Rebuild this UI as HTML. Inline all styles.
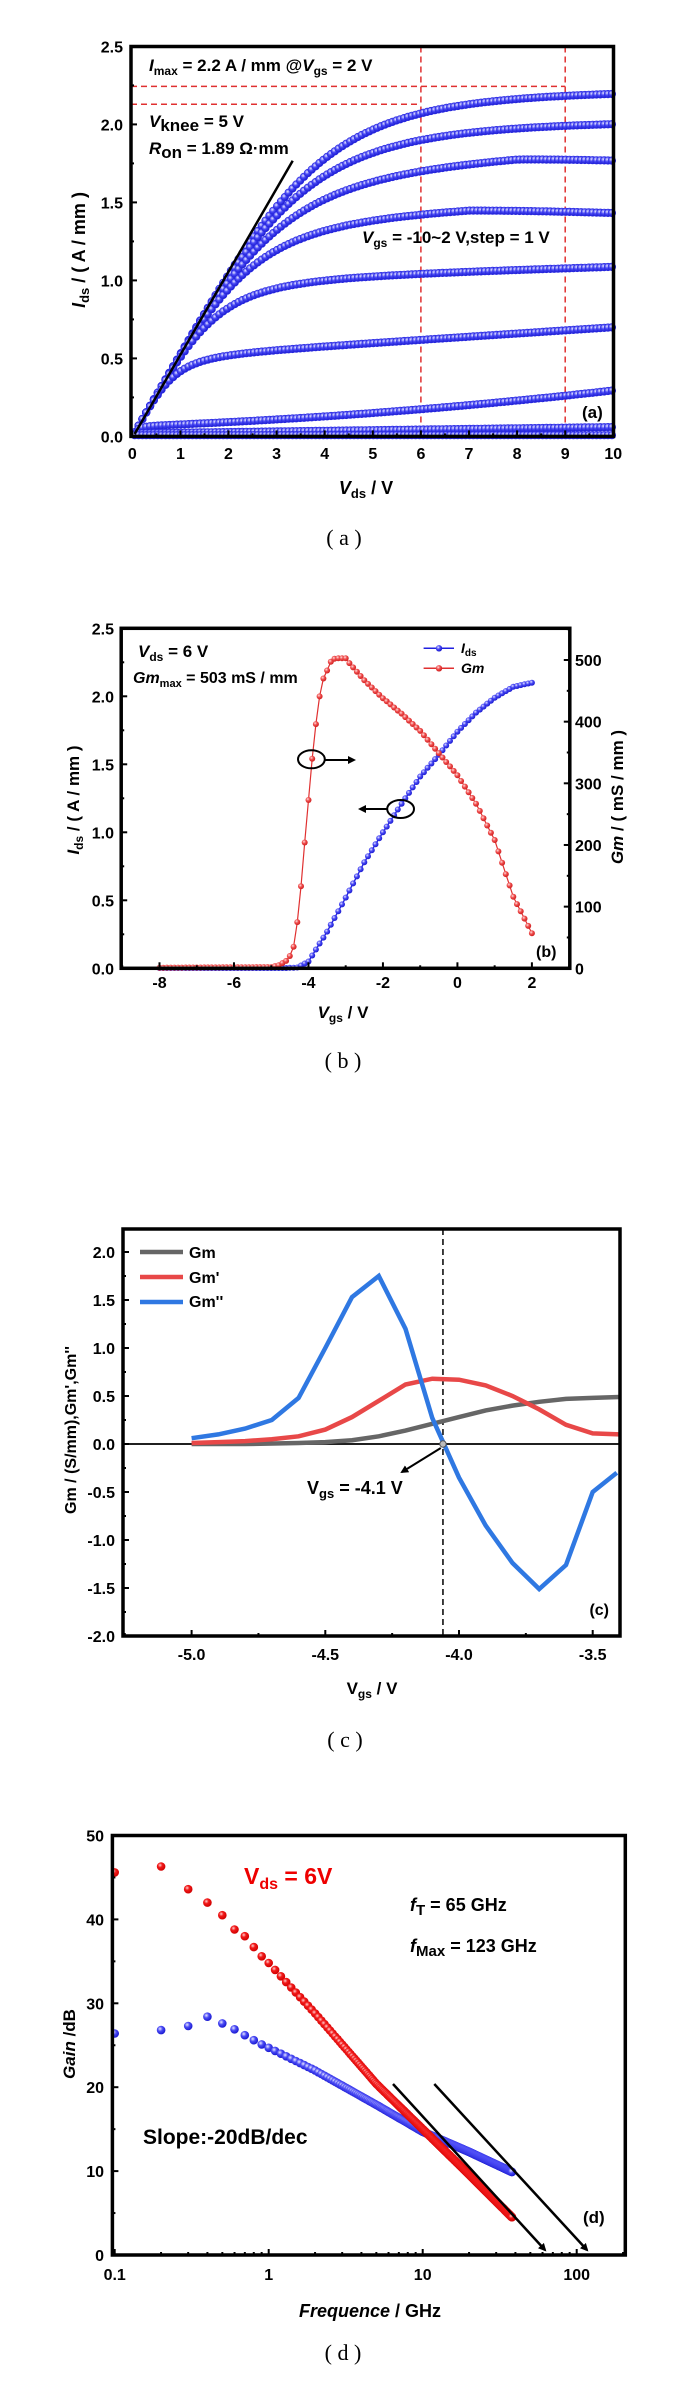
<!DOCTYPE html>
<html><head><meta charset="utf-8">
<style>
html,body{margin:0;padding:0;background:#fff;}
svg{display:block;}
text{font-family:"Liberation Sans",Arial,sans-serif;font-weight:bold;fill:#000;}
.cap{font-family:"Liberation Serif","Noto Serif CJK SC",serif;font-weight:normal;font-size:22px;}
.tk{font-size:16px;}
</style></head>
<body>
<svg id="s" xmlns="http://www.w3.org/2000/svg" width="688" height="2398" viewBox="0 0 688 2398">
<defs>
<radialGradient id="gb" cx="0.38" cy="0.35" r="0.65"><stop offset="0" stop-color="#e8e8ff"/><stop offset="0.45" stop-color="#4a4af5"/><stop offset="1" stop-color="#1a1ad0"/></radialGradient>
<radialGradient id="gr" cx="0.38" cy="0.35" r="0.65"><stop offset="0" stop-color="#ffe0e0"/><stop offset="0.45" stop-color="#f05050"/><stop offset="1" stop-color="#d02020"/></radialGradient>
<radialGradient id="gR" cx="0.38" cy="0.35" r="0.65"><stop offset="0" stop-color="#ffd0d0"/><stop offset="0.4" stop-color="#f21a1a"/><stop offset="1" stop-color="#d00000"/></radialGradient>
<marker id="ah" markerWidth="8" markerHeight="8" refX="6" refY="4" orient="auto" markerUnits="userSpaceOnUse"><path d="M0,0 L8,4 L0,8 z" fill="#000"/></marker>
</defs>
<rect width="688" height="2398" fill="#fff"/>
<g id="pa"></g><g id="pb"></g><g id="pc"></g><g id="pd"></g>

<!-- Panel a texts -->
<text x="149" y="71" font-size="17"><tspan font-style="italic">I</tspan><tspan font-size="12" dy="4">max</tspan><tspan dy="-4"> = 2.2 A / mm @</tspan><tspan font-style="italic">V</tspan><tspan font-size="12" dy="4">gs</tspan><tspan dy="-4"> = 2 V</tspan></text>
<text x="149" y="127" font-size="17"><tspan font-style="italic">V</tspan><tspan dy="4">knee</tspan><tspan dy="-4"> = 5 V</tspan></text>
<text x="149" y="154" font-size="17"><tspan font-style="italic">R</tspan><tspan dy="4">on</tspan><tspan dy="-4"> = 1.89 Ω·mm</tspan></text>
<text x="362" y="243" font-size="17"><tspan font-style="italic">V</tspan><tspan font-size="12" dy="4">gs</tspan><tspan dy="-4"> = -10~2 V,step = 1 V</tspan></text>
<text x="582" y="418" font-size="17">(a)</text>
<text x="366" y="494" font-size="18" text-anchor="middle"><tspan font-style="italic">V</tspan><tspan font-size="13" dy="4">ds</tspan><tspan dy="-4"> / V</tspan></text>
<text transform="translate(85,250) rotate(-90)" font-size="18" text-anchor="middle"><tspan font-style="italic">I</tspan><tspan font-size="13" dy="4">ds</tspan><tspan dy="-4"> / ( A / mm )</tspan></text>
<text class="cap" x="344" y="545" text-anchor="middle">( a )</text>

<!-- Panel b texts -->
<text x="138" y="657" font-size="17"><tspan font-style="italic">V</tspan><tspan font-size="12" dy="4">ds</tspan><tspan dy="-4"> = 6 V</tspan></text>
<text x="133" y="683" font-size="16"><tspan font-style="italic">Gm</tspan><tspan font-size="11" dy="4">max</tspan><tspan dy="-4"> = 503 mS / mm</tspan></text>
<text x="461" y="653" font-size="14" font-style="italic">I<tspan font-size="10" dy="3" font-style="normal">ds</tspan></text>
<text x="461" y="673" font-size="14" font-style="italic">Gm</text>
<text x="536" y="957" font-size="16">(b)</text>
<text x="343" y="1018" font-size="17" text-anchor="middle"><tspan font-style="italic">V</tspan><tspan font-size="12" dy="4">gs</tspan><tspan dy="-4"> / V</tspan></text>
<text transform="translate(79,800) rotate(-90)" font-size="17" text-anchor="middle"><tspan font-style="italic">I</tspan><tspan font-size="12" dy="4">ds</tspan><tspan dy="-4"> / ( A / mm )</tspan></text>
<text transform="translate(623,797) rotate(-90)" font-size="17" text-anchor="middle"><tspan font-style="italic">Gm</tspan><tspan> / ( mS / mm )</tspan></text>
<text class="cap" x="343" y="1068" text-anchor="middle">( b )</text>

<!-- Panel c texts -->
<text x="189" y="1258" font-size="16">Gm</text>
<text x="189" y="1283" font-size="16">Gm'</text>
<text x="189" y="1307" font-size="16">Gm''</text>
<text x="307" y="1494" font-size="18">V<tspan font-size="13" dy="4">gs</tspan><tspan dy="-4"> = -4.1 V</tspan></text>
<text x="609" y="1615" font-size="16" text-anchor="end">(c)</text>
<text x="372" y="1694" font-size="17" text-anchor="middle">V<tspan font-size="12" dy="4">gs</tspan><tspan dy="-4"> / V</tspan></text>
<text transform="translate(76,1430) rotate(-90)" font-size="16" text-anchor="middle">Gm / (S/mm),Gm',Gm''</text>
<text class="cap" x="345" y="1747" text-anchor="middle">( c )</text>

<!-- Panel d texts -->
<text x="244" y="1884" font-size="23" style="fill:#ee0000">V<tspan font-size="16" dy="5">ds</tspan><tspan dy="-5"> = 6V</tspan></text>
<text x="410" y="1911" font-size="18"><tspan font-style="italic">f</tspan><tspan font-size="15" dy="4">T</tspan><tspan dy="-4"> = 65 GHz</tspan></text>
<text x="410" y="1952" font-size="18"><tspan font-style="italic">f</tspan><tspan font-size="15" dy="4">Max</tspan><tspan dy="-4"> = 123 GHz</tspan></text>
<text x="143" y="2144" font-size="21">Slope:-20dB/dec</text>
<text x="583" y="2223" font-size="17">(d)</text>
<text x="370" y="2317" font-size="18" text-anchor="middle"><tspan font-style="italic">Frequence</tspan> / GHz</text>
<text transform="translate(75,2044) rotate(-90)" font-size="17" text-anchor="middle"><tspan font-style="italic">Gain</tspan> /dB</text>
<text class="cap" x="343" y="2360" text-anchor="middle">( d )</text>
</svg>
<script>
var NS='http://www.w3.org/2000/svg';
function E(p,tag,a,t){var e=document.createElementNS(NS,tag);for(var k in a)e.setAttribute(k,a[k]);if(t!==undefined)e.textContent=t;p.appendChild(e);return e;}
function interp(k,x){if(x<=k[0][0])return k[0][1];for(var i=1;i<k.length;i++){if(x<=k[i][0]){var a=k[i-1],b=k[i];return a[1]+(b[1]-a[1])*(x-a[0])/(b[0]-a[0]);}}return k[k.length-1][1];}
function frame(g,l,t,r,b){E(g,'rect',{x:l,y:t,width:r-l,height:b-t,fill:'none',stroke:'#000','stroke-width':3.5});}
function ln(g,x1,y1,x2,y2,c,w,extra){var a={x1:x1,y1:y1,x2:x2,y2:y2,stroke:c||'#000','stroke-width':w||1.5};for(var k in extra)a[k]=extra[k];return E(g,'line',a);}

/* ---------- Panel A ---------- */
(function(){
var g=document.getElementById('pa');
var L=131,R=613.5,T=46.5,B=436.4;
var X=function(v){return 132.3+48.1*v;}, Y=function(i){return B-156*i;};
ln(g,X(6),T,X(6),B,'#e03030',1.5,{'stroke-dasharray':'6,4'});
ln(g,X(9),T,X(9),B,'#e03030',1.5,{'stroke-dasharray':'6,4'});
ln(g,L,86.4,X(9),86.4,'#e03030',1.5,{'stroke-dasharray':'6,4'});
ln(g,L,104.3,X(6),104.3,'#e03030',1.5,{'stroke-dasharray':'6,4'});
var curves=[
 [function(v){return 2.225;},3.5],
 [function(v){return 2.03;},3.2],
 [function(v){return 1.72+0.0125*Math.min(v,8)-0.015*Math.max(0,v-8);},3],
 [function(v){return 1.40+0.011*Math.min(v,7)-0.012*Math.max(0,v-7);},3],
 [function(v){return 1.0+0.009*v;},3],
 [function(v){return 0.5+0.02*v;},3],
 [function(v){return 0.065+0.011*v+0.0012*v*v;},2],
 [function(v){return 0.02+0.004*v;},2],
 [function(v){return 0.008;},2]];
var gg=0.53;
curves.forEach(function(c){
 for(var v=0.05;v<=10.001;v+=0.08){
  var s=c[0](v),x=gg*v/s,n=c[1];
  var I=s*x/Math.pow(1+Math.pow(x,n),1/n);
  E(g,'circle',{cx:X(v).toFixed(1),cy:Y(I).toFixed(1),r:3.8,fill:'url(#gb)',stroke:'#2a2ae0','stroke-width':0.6});
 }
});
ln(g,134.6,434,292.7,160.7,'#000',2.5);
frame(g,L,T,R,B);
for(var v=0;v<=10;v+=0.5){var x=X(v);ln(g,x,B,x,B-(v%1==0?6:3),'#000',2);
 if(v%1==0)E(g,'text',{x:x,y:459,'text-anchor':'middle','class':'tk'},String(v));}
for(var i=0;i<=2.5001;i+=0.25){var y=Y(i);ln(g,L,y,L+(Math.abs(i*2-Math.round(i*2))<1e-6?6:3),y,'#000',2);
 if(Math.abs(i*2-Math.round(i*2))<1e-6)E(g,'text',{x:123,y:y+6,'text-anchor':'end','class':'tk'},i.toFixed(1));}
})();

/* ---------- Panel B ---------- */
(function(){
var g=document.getElementById('pb');
var L=121.2,R=569.8,T=628.3,B=968.3;
var X=function(v){return 159.5+37.24*(v+8);}, Y=function(i){return B-136*i;}, Y2=function(m){return B-0.6166*m;};
var ik=[[-8,0.002],[-4.6,0.002],[-4.3,0.006],[-4.0,0.05],[-3.5,0.27],[-3,0.52],[-2.5,0.78],[-2,1.0],[-1.5,1.21],[-1,1.41],[-0.5,1.57],[0,1.74],[0.5,1.88],[1,1.99],[1.5,2.07],[2,2.1]];
var gk=[[-8,1],[-5,2],[-4.8,5],[-4.6,12],[-4.5,20],[-4.4,35],[-4.3,75],[-4.2,133],[-4.1,204],[-4.0,273],[-3.9,340],[-3.8,396],[-3.7,441],[-3.6,470],[-3.5,483],[-3.4,497],[-3.3,502],[-3.2,503],[-3.0,503],[-2.9,495],[-2.5,467],[-2,438],[-1.5,413],[-1,385],[-0.5,349],[0,313],[0.5,267],[1,208],[1.5,116],[2,57]];
var pi='',pg='',ptsI=[],ptsG=[];
for(var v=-8;v<=2.0001;v+=0.1){var a=X(v),b=Y(interp(ik,v)),c=Y2(interp(gk,v));pi+=(pi?'L':'M')+a.toFixed(1)+','+b.toFixed(1);pg+=(pg?'L':'M')+a.toFixed(1)+','+c.toFixed(1);ptsI.push([a,b]);ptsG.push([a,c]);}
E(g,'path',{d:pi,fill:'none',stroke:'#2020e0','stroke-width':1.4});
E(g,'path',{d:pg,fill:'none',stroke:'#e03030','stroke-width':1.2});
ptsI.forEach(function(p){E(g,'circle',{cx:p[0].toFixed(1),cy:p[1].toFixed(1),r:3,fill:'url(#gb)'});});
ptsG.forEach(function(p){E(g,'circle',{cx:p[0].toFixed(1),cy:p[1].toFixed(1),r:3,fill:'url(#gr)'});});
ln(g,423.6,648.3,454,648.3,'#2020e0',1.5);E(g,'circle',{cx:439,cy:648.3,r:3.2,fill:'url(#gb)'});
ln(g,423.6,668.3,454,668.3,'#e03030',1.5);E(g,'circle',{cx:439,cy:668.3,r:3.2,fill:'url(#gr)'});
E(g,'ellipse',{cx:311.4,cy:759.3,rx:13.4,ry:9,fill:'none',stroke:'#000','stroke-width':2});
ln(g,324.8,760,354,760,'#000',2,{'marker-end':'url(#ah)'});
E(g,'ellipse',{cx:400.6,cy:809,rx:13.4,ry:9,fill:'none',stroke:'#000','stroke-width':2});
ln(g,387.2,809,360,809,'#000',2,{'marker-end':'url(#ah)'});
frame(g,L,T,R,B);
for(var v=-9;v<=3;v++){var x=X(v);ln(g,x,B,x,B-(v%2==0?6:3),'#000',2);
 if(v%2==0&&v>=-8&&v<=2)E(g,'text',{x:x,y:988,'text-anchor':'middle','class':'tk'},String(v));}
for(var i=0;i<=2.5001;i+=0.25){var y=Y(i),maj=Math.abs(i*2-Math.round(i*2))<1e-6;ln(g,L,y,L+(maj?6:3),y,'#000',2);
 if(maj)E(g,'text',{x:114,y:y+6,'text-anchor':'end','class':'tk'},i.toFixed(1));}
for(var m=0;m<=550;m+=50){var y=Y2(m);ln(g,R,y,R-(m%100==0?6:3),y,'#000',2);
 if(m%100==0)E(g,'text',{x:575,y:y+6,'class':'tk'},String(m));}
})();

/* ---------- Panel C ---------- */
(function(){
var g=document.getElementById('pc');
var L=123,R=620,T=1229,B=1636;
var X=function(v){return 459+267.4*(v+4);}, Y=function(u){return 1444-96*u;};
ln(g,X(-4.06),T,X(-4.06),B,'#000',1.5,{'stroke-dasharray':'6,4'});
ln(g,L,1444,R,1444,'#000',1.8);
function poly(k,c){var d='';k.forEach(function(p){d+=(d?'L':'M')+X(p[0]).toFixed(1)+','+Y(p[1]).toFixed(1);});E(g,'path',{d:d,fill:'none',stroke:c,'stroke-width':4.5,'stroke-linejoin':'miter'});}
poly([[-5,0],[-4.8,0],[-4.6,0.01],[-4.5,0.02],[-4.4,0.04],[-4.3,0.08],[-4.2,0.14],[-4.1,0.21],[-4.0,0.28],[-3.9,0.35],[-3.8,0.40],[-3.7,0.44],[-3.6,0.47],[-3.5,0.48],[-3.4,0.49]],'#666666');
poly([[-5,0.01],[-4.9,0.02],[-4.8,0.03],[-4.7,0.05],[-4.6,0.08],[-4.5,0.15],[-4.4,0.28],[-4.3,0.45],[-4.2,0.62],[-4.1,0.68],[-4.0,0.67],[-3.9,0.61],[-3.8,0.5],[-3.7,0.36],[-3.6,0.2],[-3.5,0.11],[-3.4,0.1]],'#e84848');
poly([[-5,0.06],[-4.9,0.1],[-4.8,0.16],[-4.7,0.25],[-4.6,0.48],[-4.5,1.0],[-4.4,1.53],[-4.3,1.75],[-4.2,1.2],[-4.1,0.27],[-4.0,-0.35],[-3.9,-0.85],[-3.8,-1.24],[-3.7,-1.51],[-3.6,-1.26],[-3.5,-0.5],[-3.41,-0.3]],'#2f78e2');
E(g,'circle',{cx:X(-4.06),cy:1444,r:3.2,fill:'#bbb',stroke:'#555','stroke-width':1});
ln(g,440.8,1448,402,1472,'#000',2,{'marker-end':'url(#ah)'});
ln(g,140,1252,183,1252,'#666666',4.5);ln(g,140,1277,183,1277,'#e84848',4.5);ln(g,140,1302,183,1302,'#2f78e2',4.5);
frame(g,L,T,R,B);
for(var v=-5.25;v<=-3.39;v+=0.25){var x=X(v),maj=Math.abs(v*2-Math.round(v*2))<1e-6;ln(g,x,B,x,B-(maj?6:3),'#000',2);
 if(maj)E(g,'text',{x:x,y:1660,'text-anchor':'middle','class':'tk'},v.toFixed(1));}
for(var u=-2;u<=2.2;u+=0.25){var y=Y(u),maj=Math.abs(u*2-Math.round(u*2))<1e-6;ln(g,L,y,L+(maj?6:3),y,'#000',2);
 if(maj)E(g,'text',{x:115,y:y+6,'text-anchor':'end','class':'tk'},u.toFixed(1));}
})();

/* ---------- Panel D ---------- */
(function(){
var g=document.getElementById('pd');
var L=112.4,R=625.3,T=1835.5,B=2255;
var X=function(f){return 114.7+154*(Math.log10(f)+1);}, Y=function(d){return B-8.39*d;};
var rk=[[0,34.8],[Math.log10(2),28.8],[Math.log10(5),20.4],[1,15.0],[Math.log10(20),9.6],[Math.log10(38),4.5]];
var bk=[[0,24.7],[Math.log10(2),22.0],[Math.log10(5),17.9],[1,14.7],[Math.log10(20),12.3],[Math.log10(38),9.9]];
var lowR=[45.6,46.3,43.6,42,40.5,38.8,38,36.7,35.6],lowB=[26.4,26.8,27.3,28.4,27.6,26.9,26.2,25.6,25.1];
var cp=E(g,'clipPath',{id:'cd'});E(cp,'rect',{x:L,y:T,width:R-L,height:B-T});
var gi=E(g,'g',{'clip-path':'url(#cd)'});
function pts(low,k,grad){var out=[];for(var i=0;i<9;i++)out.push([0.1*(i+1),low[i]]);
 for(var f=1;f<=38.001;f+=0.1)out.push([f,interp(k,Math.log10(f))]);
 out.forEach(function(p){E(gi,'circle',{cx:X(p[0]).toFixed(1),cy:Y(p[1]).toFixed(1),r:4.3,fill:grad});});}
pts(lowB,bk,'url(#gb)');
pts(lowR,rk,'url(#gR)');
ln(g,393,2084,545,2250,'#000',2.5,{'marker-end':'url(#ah)'});
ln(g,434.3,2084,587,2250,'#000',2.5,{'marker-end':'url(#ah)'});
frame(g,L,T,R,B);
[0.1,1,10,100].forEach(function(f){var x=X(f);ln(g,x,B,x,B-6,'#000',2);E(g,'text',{x:x,y:2280,'text-anchor':'middle','class':'tk'},String(f));});
for(var d=-1;d<=2;d++)for(var m=2;m<=9;m++){var f=m*Math.pow(10,d),x=X(f);if(x<R)ln(g,x,B,x,B-3,'#000',2);}
for(var db=0;db<=50;db+=5){var y=Y(db);ln(g,L,y,L+(db%10==0?6:3),y,'#000',2);
 if(db%10==0)E(g,'text',{x:104,y:y+6,'text-anchor':'end','class':'tk'},String(db));}
})();
</script>
</body></html>
